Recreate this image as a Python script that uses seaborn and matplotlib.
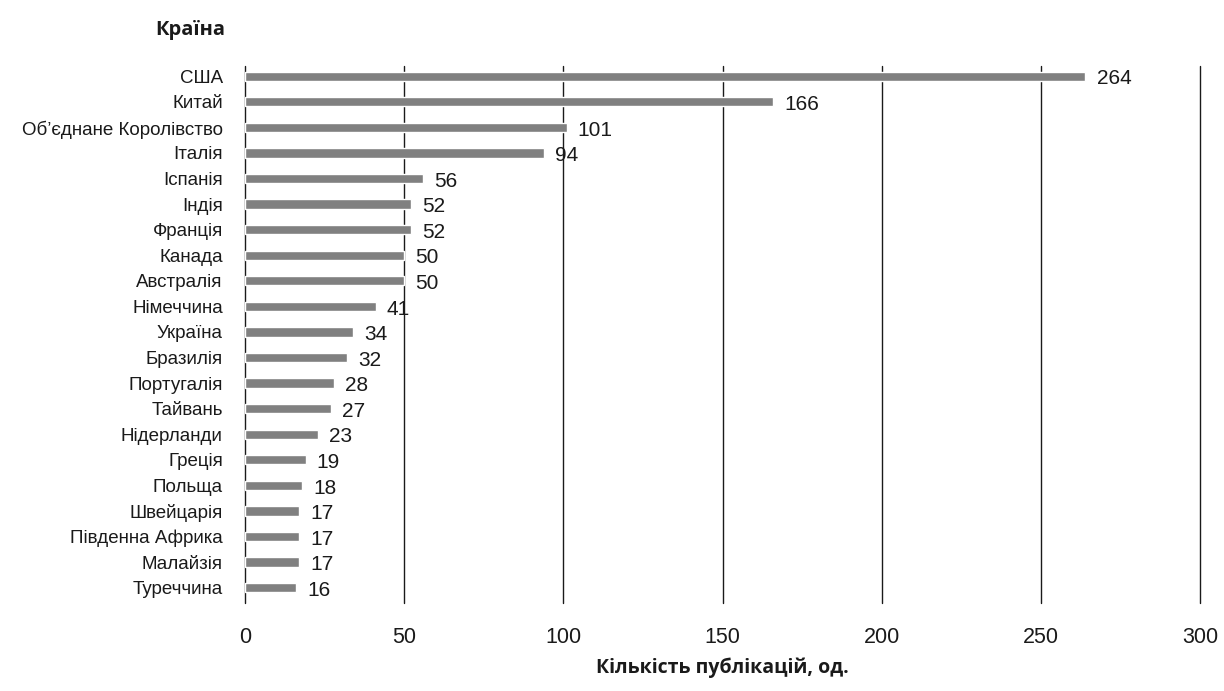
import matplotlib
matplotlib.use("Agg")
from matplotlib import pyplot as plt
from matplotlib import font_manager
import pandas as pd
import seaborn as sns

countries = ['США', 'Китай', 'Об’єднане Королівство', 'Італія', 'Іспанія', 'Індія',
             'Франція', 'Канада', 'Австралія', 'Німеччина', 'Україна', 'Бразилія',
             'Португалія', 'Тайвань', 'Нідерланди', 'Греція', 'Польща', 'Швейцарія',
             'Південна Африка', 'Малайзія', 'Туреччина']
counts = [264, 166, 101, 94, 56, 52, 52, 50, 50, 41, 34, 32, 28, 27, 23, 19, 18, 17, 17, 17, 16]
x_ticks = [0, 50, 100, 150, 200, 250, 300]

df = pd.DataFrame({'Країна': countries, 'Кількість': counts})

sns.set_theme(style='white')
names = {f.name for f in font_manager.fontManager.ttflist}
narrow = 'Liberation Sans Narrow' if 'Liberation Sans Narrow' in names else 'Liberation Sans'
plt.rcParams['font.family'] = [narrow, 'DejaVu Sans']

fig = plt.figure(figsize=(12.24, 6.91), dpi=100)
ax = fig.add_axes([0.2002, 0.1274, 0.7802, 0.7771])

sns.barplot(data=df, x='Кількість', y='Країна', color='#808080', width=0.36,
            saturation=1, ax=ax, zorder=3)

for i, v in enumerate(counts):
    ax.annotate(str(v), (v, i), xytext=(8, -2), textcoords='offset points',
                ha='left', va='center', fontsize=15, color='#1a1a1a', zorder=4)

ax.set_xlim(0, 300)
ax.set_ylim(20.6, -0.4)
ax.set_xticks(x_ticks)
ax.tick_params(axis='x', labelsize=15.5, pad=17, length=0, colors='#1a1a1a')
ax.tick_params(axis='y', labelsize=13.5, pad=16, length=0, colors='#1a1a1a')
for x in x_ticks:
    ax.axvline(x, color='#1a1a1a', lw=1.0, zorder=2, clip_on=False)
for s in ax.spines.values():
    s.set_visible(False)

ax.set_ylabel('')
ax.set_xlabel('')
fig.text(0.590, 1 - 668 / 691, 'Кількість публікацій, од.', ha='center', va='center',
         fontsize=14, fontweight='bold', family=['Open Sans', 'DejaVu Sans'], color='#1a1a1a')
fig.text(0.184, 1 - 30 / 691, 'Країна', ha='right', va='center', fontsize=14.5,
         fontweight='bold', family=['Open Sans', 'DejaVu Sans'], color='#1a1a1a')

fig.savefig('out.png', dpi=100)
